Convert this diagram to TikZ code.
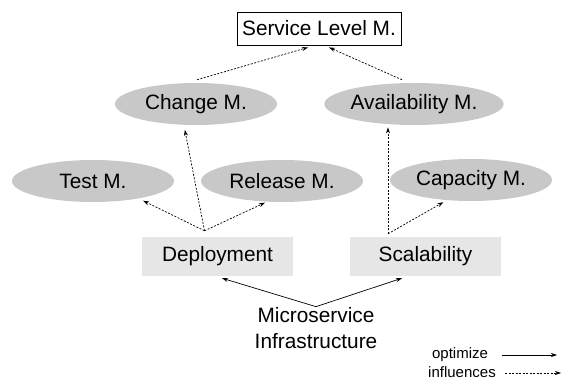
\documentclass[tikz,border=0pt]{standalone}
\usepackage{fontspec}
\setmainfont{Liberation Sans}
\usepackage{tikz}
\usetikzlibrary{shapes.geometric,arrows.meta,calc}

\definecolor{mgray}{RGB}{200,200,200}
\definecolor{bgray}{RGB}{230,230,230}

\tikzset{
  mgmt/.style={ellipse,fill=mgray,minimum width=162pt,minimum height=42pt,inner sep=0pt},
  infra/.style={rectangle,fill=bgray,minimum width=151pt,minimum height=39pt,inner sep=0pt},
  slmbox/.style={rectangle,draw,line width=0.8pt,minimum width=164pt,minimum height=33pt,inner sep=0pt},
  opt/.style={-{Stealth[length=6pt,width=4pt]},line width=0.7pt},
  infl/.style={-{Stealth[length=6pt,width=4pt]},line width=0.7pt,dash pattern=on 2pt off 1.5pt},
  legend/.style={font=\fontsize{15}{18}\selectfont,inner sep=0pt,anchor=base}
}

\begin{document}
\begin{tikzpicture}[x=1pt,y=1pt,font=\fontsize{20.8}{26}\selectfont]
\useasboundingbox (0,0) rectangle (562,380);

%top
\node[slmbox] (slm) at (319,351.5) {Service Level M.};
\node[mgmt] (chg) at (196,276) {Change M.};
\node[mgmt] (avl) at (414,276) {Availability M.};
\node[mgmt] (tst) at (93,199) {Test M.};
\node[mgmt] (rel) at (282,199) {Release M.};
\node[mgmt] (cap) at (471,200) {Capacity M.};

%middle
\node[infra] (dep) at (217.5,123.5) {Deployment};
\node[infra] (scl) at (425.5,123.5) {Scalability};

%bottom
\node[align=center,inner sep=1pt] (msi) at (316,51.5) {Microservice\\Infrastructure};

\coordinate (depout) at ($(dep.north)+(-13,6)$);
\coordinate (sclout) at ($(scl.north)+(-37.5,3)$);
\coordinate (chgout) at ($(chg.north)+(1,3)$);
\coordinate (avlout) at ($(avl.north)+(-12,3)$);

%optimize
\draw[opt] (msi.north) -- ($(dep.south)+(4.5,-2)$);
\draw[opt] (msi.north) -- ($(scl.south)+(-23.5,-2)$);

%influences
\draw[infl,shorten >=5pt] (depout) -- (tst.-21);
\draw[infl,shorten >=2pt] (depout) -- (rel.-126);
\draw[infl,shorten >=5pt] (depout) -- (chg.-120);
\draw[infl,shorten >=3pt] (sclout) -- (sclout |- avl.-139);
\draw[infl,shorten >=4pt] (sclout) -- (cap.-140);
\draw[infl] (chgout) -- ($(slm.south)+(-11,-2)$);
\draw[infl] (avlout) -- ($(slm.south)+(10,-2)$);

%legend
\node[legend] (lopt) at (460,21) {optimize};
\node[legend] (linf) at (462,2.5) {influences};
\coordinate (lopta) at (502,25);
\coordinate (loptb) at (557,25);
\coordinate (linfa) at (505,7);
\coordinate (linfb) at (561,7);
\draw[opt] (lopta) -- (loptb);
\draw[infl] (linfa) -- (linfb);
\end{tikzpicture}
\end{document}
